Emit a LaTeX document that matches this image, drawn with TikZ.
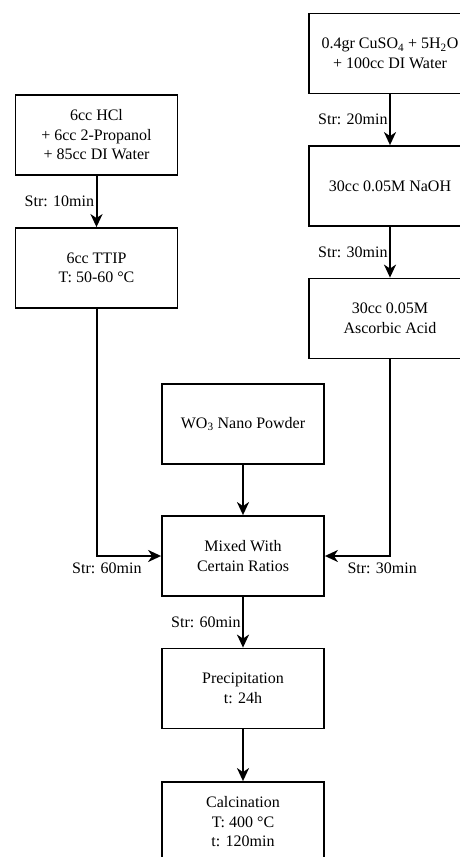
\documentclass[tikz,border=0pt]{standalone}
\usepackage{fontspec}
\setmainfont{Liberation Serif}
\usetikzlibrary{arrows.meta}
\begin{document}
\begin{tikzpicture}[x=1pt,y=-1pt,
  box/.style={draw, line width=1.8pt, minimum width=162pt, minimum height=80pt, inner sep=0pt, align=center, font=\fontsize{16}{19.5}\selectfont},
  arr/.style={line width=2pt, -{Stealth[length=13pt,width=12pt,inset=4pt]}},
  lbl/.style={font=\fontsize{16}{20}\selectfont, inner sep=1.5pt}]
\useasboundingbox (0,0) rectangle (460,857);
\clip (0,0) rectangle (460,857);
\node[box] (cu) at (390,53.5) {0.4gr CuSO\textsubscript{4} + 5H\textsubscript{2}O\\+ 100cc DI Water};
\node[box] (hcl) at (96.5,135) {6cc HCl\\+ 6cc 2-Propanol\\+ 85cc DI Water};
\node[box] (ttip) at (96.5,268) {6cc TTIP\\T: 50-60 °C};
\node[box] (naoh) at (390,186) {30cc 0.05M NaOH};
\node[box] (asc) at (390,318.5) {30cc 0.05M\\Ascorbic Acid};
\node[box] (wo3) at (243,424) {WO\textsubscript{3} Nano Powder};
\node[box] (mix) at (243,556) {Mixed With\\Certain Ratios};
\node[box] (prec) at (243,688.5) {Precipitation\\t: 24h};
\node[box] (calc) at (243,822) {Calcination\\T: 400 °C\\t: 120min};
\draw[arr] (hcl) -- node[lbl, left] {Str: 10min} (ttip);
\draw[arr] (cu) -- node[lbl, left] {Str: 20min} (naoh);
\draw[arr] (naoh) -- node[lbl, left] {Str: 30min} (asc);
\draw[arr] (ttip.south) |- node[lbl, pos=0.58, below=4pt] {Str: 60min} (mix.west);
\draw[arr] (asc.south) |- node[lbl, pos=0.56, below=4pt] {Str: 30min} (mix.east);
\draw[arr] (wo3) -- (mix);
\draw[arr] (mix) -- node[lbl, left] {Str: 60min} (prec);
\draw[arr] (prec) -- (calc);
\end{tikzpicture}
\end{document}
